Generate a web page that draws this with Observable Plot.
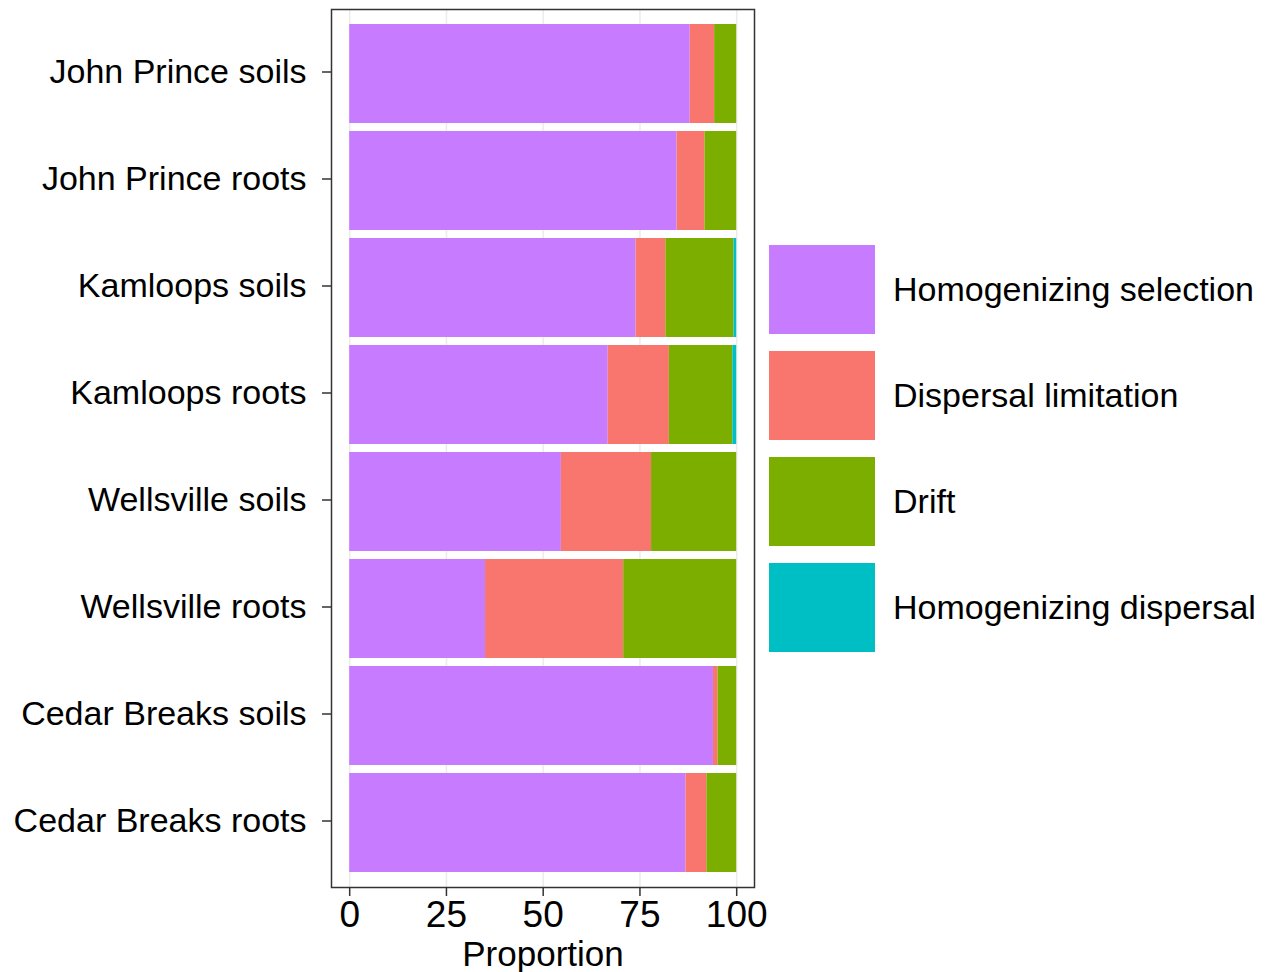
<!DOCTYPE html>
<html>
<head>
<meta charset="utf-8">
<script src="https://cdn.jsdelivr.net/npm/d3@7"></script>
<script src="https://cdn.jsdelivr.net/npm/@observablehq/plot@0.6"></script>
<style>
  html, body { margin: 0; padding: 0; background: white; }
  #wrap { position: relative; width: 1271px; height: 972px; font-family: "Liberation Sans", Arial, sans-serif; }
  #chart { position: absolute; left: 0; top: 0; }
  #chart svg { overflow: visible; }
  #legend { position: absolute; left: 769px; top: 245px; }
  .item { display: flex; align-items: center; height: 89px; margin-bottom: 17px; }
  .key { width: 106px; height: 89px; flex: none; }
  .lab { margin-left: 18px; font-size: 34px; color: black; white-space: nowrap; }
</style>
</head>
<body>
<div id="wrap"><div id="chart"></div><div id="legend"></div></div>
<script>
const sites = ["John Prince soils", "John Prince roots", "Kamloops soils", "Kamloops roots",
  "Wellsville soils", "Wellsville roots", "Cedar Breaks soils", "Cedar Breaks roots"];
const processes = ["Homogenizing selection", "Dispersal limitation", "Drift", "Homogenizing dispersal"];
const colors = ["#C77CFF", "#F8766D", "#7CAE00", "#00BFC4"];
const homSelection = [88.0, 84.6, 74.0, 66.8, 54.7, 35.1, 94.0, 86.9];
const dispLimitation = [6.3, 7.2, 7.7, 15.8, 23.3, 35.7, 1.2, 5.4];
const drift = [5.7, 8.2, 17.6, 16.4, 22.0, 29.2, 4.8, 7.7];
const homDispersal = [0, 0, 0.7, 1.0, 0, 0, 0, 0];
const xTicks = [0, 25, 50, 75, 100];

const series = [homSelection, dispLimitation, drift, homDispersal];
const data = [];
processes.forEach((p, i) => sites.forEach((s, j) => data.push({site: s, process: p, value: series[i][j]})));

const chart = Plot.plot({
  width: 760,
  height: 972,
  marginLeft: 331,
  marginRight: 6,
  marginTop: 9,
  marginBottom: 85,
  style: {fontFamily: "'Liberation Sans', Arial, sans-serif", fontSize: "34px", color: "black", background: "white", overflow: "visible"},
  x: {domain: [-4.7, 104.6], label: "Proportion"},
  y: {domain: sites, paddingInner: 0.075, paddingOuter: 0.125, label: null},
  color: {domain: processes, range: colors},
  marks: [
    Plot.gridX(xTicks, {stroke: "#ebebeb", strokeOpacity: 1, strokeWidth: 1.5}),
    Plot.barX(data, Plot.stackX({x: "value", y: "site", fill: "process", order: processes})),
    Plot.frame({stroke: "#333333", strokeWidth: 1.5}),
    Plot.axisX({ticks: xTicks, tickSize: 9, tickPadding: 4, fontSize: 37, stroke: "#333333", strokeWidth: 1.5,
      label: null}),
    Plot.axisX({ticks: [], label: "Proportion", labelAnchor: "center", labelArrow: "none", labelOffset: 78, fontSize: 35}),
    Plot.axisY({tickSize: 9, tickPadding: 16, fontSize: 34, stroke: "#333333", strokeWidth: 1.5, dy: -2})
  ]
});
document.getElementById("chart").appendChild(chart);

const legend = document.getElementById("legend");
processes.forEach((p, i) => {
  const item = document.createElement("div");
  item.className = "item";
  const key = document.createElement("div");
  key.className = "key";
  key.style.background = colors[i];
  const lab = document.createElement("div");
  lab.className = "lab";
  lab.textContent = p;
  item.appendChild(key);
  item.appendChild(lab);
  legend.appendChild(item);
});
</script>
</body>
</html>
